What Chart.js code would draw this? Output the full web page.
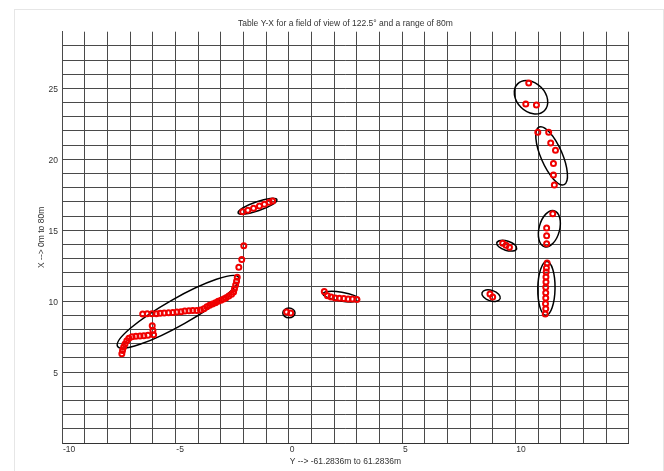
<!DOCTYPE html>
<html>
<head>
<meta charset="utf-8">
<script src="https://cdn.jsdelivr.net/npm/chart.js@4/dist/chart.umd.min.js"></script>
<style>
  html, body { margin: 0; padding: 0; background: #fff; }
  #frame { position: absolute; left: 14px; top: 9px; width: 648px; height: 470px; border: 1px solid #e6e6e6; }
  #myChart { position: absolute; left: 0; top: 0; }
</style>
</head>
<body>
<div id="frame"></div>
<canvas id="myChart" width="664" height="471"></canvas>
<script>
// detected points, grouped by cluster: [Y, X]
const trackLeft = [
  [-7.36, 6.30], [-7.33, 6.53], [-7.28, 6.77], [-7.22, 6.98], [-7.14, 7.21], [-7.05, 7.38],
  [-6.91, 7.50], [-6.74, 7.52], [-6.56, 7.54], [-6.39, 7.57], [-6.21, 7.59],
  [-6.02, 8.27], [-5.99, 7.94], [-5.96, 7.64],
  [-6.44, 9.10], [-6.24, 9.12], [-6.03, 9.12], [-5.84, 9.12], [-5.67, 9.14], [-5.49, 9.17],
  [-5.30, 9.19], [-5.11, 9.21], [-4.93, 9.24], [-4.75, 9.26], [-4.58, 9.31], [-4.40, 9.33],
  [-4.23, 9.35], [-4.05, 9.35], [-3.89, 9.38], [-3.74, 9.47], [-3.61, 9.61], [-3.49, 9.71],
  [-3.36, 9.80], [-3.23, 9.89], [-3.11, 9.99], [-2.99, 10.06], [-2.87, 10.15], [-2.76, 10.25],
  [-2.64, 10.36], [-2.52, 10.48], [-2.43, 10.65], [-2.39, 10.88], [-2.34, 11.14], [-2.30, 11.40],
  [-2.27, 11.68], [-2.20, 12.39], [-2.07, 12.93], [-1.98, 13.91]
];
const barTop = [[-2.03, 16.31], [-1.80, 16.41], [-1.55, 16.55], [-1.29, 16.71], [-1.07, 16.83], [-0.86, 16.97], [-0.71, 17.06]];
const blobCentre = [[-0.09, 9.24], [0.09, 9.17]];
const barMiddle = [[1.57, 10.69], [1.71, 10.39], [1.87, 10.29], [2.05, 10.22], [2.24, 10.20], [2.43, 10.18], [2.62, 10.15], [2.81, 10.15], [3.01, 10.11]];
const groupFar = [[10.59, 25.39], [10.46, 23.90], [10.93, 23.83]];
const groupUpper = [[10.99, 21.91], [11.47, 21.91], [11.56, 21.15], [11.77, 20.64], [11.68, 19.70], [11.68, 18.90], [11.72, 18.19]];
const groupMid = [[11.65, 16.17], [11.38, 15.16], [11.38, 14.62], [11.38, 14.05]];
const groupSmall = [[9.44, 14.08], [9.59, 13.94], [9.74, 13.80]];
const groupPair = [[8.88, 10.51], [9.00, 10.29]];
const columnRight = [[11.40, 12.69], [11.37, 12.34], [11.36, 12.06], [11.35, 11.70], [11.35, 11.35], [11.34, 10.98],
  [11.34, 10.60], [11.34, 10.23], [11.33, 9.82], [11.34, 9.47], [11.32, 9.10]];

// cluster ellipses: centre, end of major axis, minor/major ratio
const ellipseCx    = [-4.875, -1.375, 0.01, 2.315, 10.69, 11.60, 11.50, 9.62, 8.93, 11.37];
const ellipseCy    = [9.25, 16.69, 9.17, 10.32, 24.375, 20.25, 15.11, 13.91, 10.39, 10.90];
const ellipseTipX  = [-2.20, -0.52, 0.28, 3.12, 11.28, 12.15, 11.71, 10.06, 9.33, 11.39];
const ellipseTipY  = [11.68, 17.16, 9.17, 10.11, 23.43, 18.22, 16.38, 13.70, 10.18, 12.80];
const ellipseRatio = [0.19, 0.22, 0.8, 0.24, 0.75, 0.34, 0.55, 0.45, 0.55, 0.32];

const xTickLabels = [-10, -5, 0, 5, 10];
const yTickLabels = [5, 10, 15, 20, 25];

const allPoints = [].concat(trackLeft, barTop, blobCentre, barMiddle, groupFar, groupUpper,
  groupMid, groupSmall, groupPair, columnRight).map(p => ({ x: p[0], y: p[1] }));

const ellipsePlugin = {
  id: 'clusterEllipses',
  beforeDatasetsDraw(chart) {
    const { ctx, chartArea } = chart;
    const xs = chart.scales.x, ys = chart.scales.y;
    ctx.save();
    ctx.beginPath();
    ctx.rect(chartArea.left, chartArea.top, chartArea.right - chartArea.left, chartArea.bottom - chartArea.top);
    ctx.clip();
    ctx.strokeStyle = '#000';
    ctx.lineWidth = 1.5;
    for (let i = 0; i < ellipseCx.length; i++) {
      const cx = xs.getPixelForValue(ellipseCx[i]);
      const cy = ys.getPixelForValue(ellipseCy[i]);
      const tx = xs.getPixelForValue(ellipseTipX[i]);
      const ty = ys.getPixelForValue(ellipseTipY[i]);
      const major = Math.hypot(tx - cx, ty - cy);
      ctx.beginPath();
      ctx.ellipse(cx, cy, major, major * ellipseRatio[i], Math.atan2(ty - cy, tx - cx), 0, Math.PI * 2);
      ctx.stroke();
    }
    ctx.restore();
  }
};

Chart.defaults.font.family = '"Liberation Sans", Arial, sans-serif';
Chart.defaults.font.size = 8.5;
Chart.defaults.color = '#333';

new Chart(document.getElementById('myChart'), {
  type: 'scatter',
  data: {
    datasets: [{
      data: allPoints,
      pointStyle: 'circle',
      pointRadius: 2.5,
      pointBorderWidth: 2,
      pointBorderColor: '#f00000',
      pointBackgroundColor: 'rgba(255,255,255,0)'
    }]
  },
  options: {
    responsive: false,
    animation: false,
    devicePixelRatio: 1,
    layout: { padding: { left: 0, right: 35.3, top: 0, bottom: 0 } },
    plugins: {
      legend: { display: false },
      tooltip: { enabled: false },
      title: {
        display: true,
        fullSize: false,
        text: 'Table Y-X for a field of view of 122.5° and a range of 80m',
        font: { size: 8.5, weight: 'normal' },
        color: '#333',
        padding: { top: 18.5, bottom: 3 }
      }
    },
    scales: {
      x: {
        type: 'linear',
        min: -10,
        max: 15,
        afterFit: s => { s.height = 28; },
        grid: { color: '#4a4a4a', lineWidth: 1, drawTicks: false },
        border: { color: '#333' },
        ticks: {
          stepSize: 1,
          autoSkip: false,
          maxRotation: 0,
          align: 'start',
          labelOffset: 1,
          padding: 2,
          callback: v => xTickLabels.includes(v) ? String(v) : ''
        },
        title: {
          display: true,
          text: 'Y --> -61.2836m to 61.2836m',
          font: { size: 8.5 },
          padding: { top: 0, bottom: 4.2 }
        }
      },
      y: {
        type: 'linear',
        min: 0,
        max: 29,
        afterFit: s => { s.width = 62; },
        grid: {
          drawTicks: false,
          lineWidth: 1,
          color: c => c.tick && c.tick.value === 29 ? 'rgba(0,0,0,0)' : '#4a4a4a'
        },
        border: { color: '#4a4a4a' },
        ticks: {
          stepSize: 1,
          autoSkip: false,
          padding: 4,
          labelOffset: 1.5,
          callback: v => yTickLabels.includes(v) ? String(v) : ''
        },
        title: {
          display: true,
          text: 'X --> 0m to 80m',
          font: { size: 8.5 },
          padding: { top: 36.6, bottom: 0 }
        }
      }
    }
  },
  plugins: [ellipsePlugin]
});
</script>
</body>
</html>
